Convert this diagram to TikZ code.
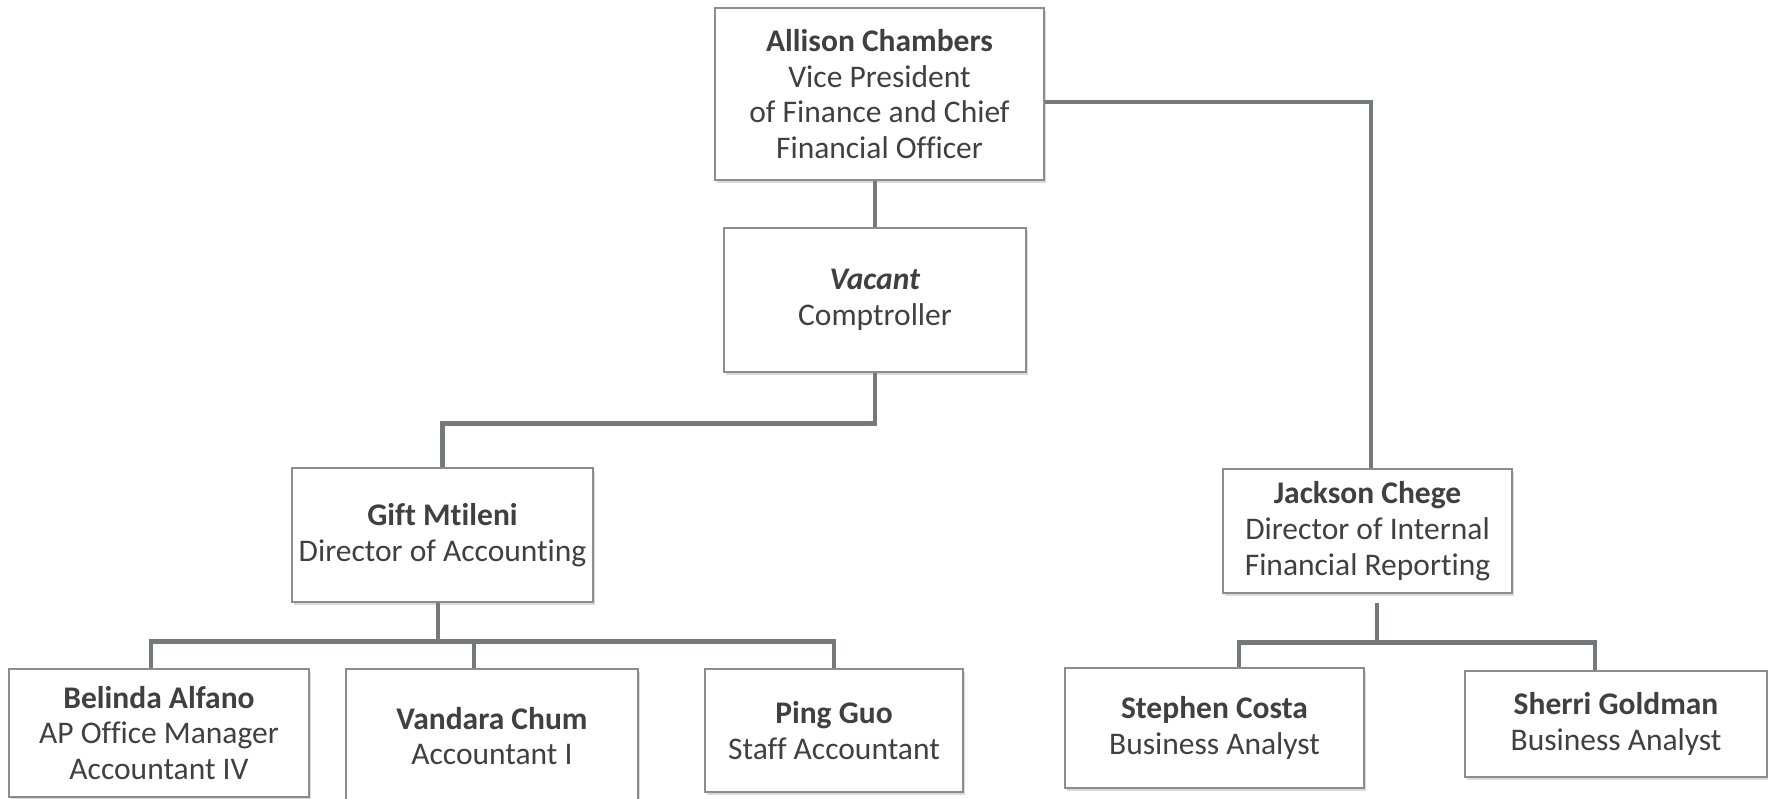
\documentclass[tikz,border=0pt]{standalone}
\usepackage{fontspec}
\setmainfont{Carlito}[Ligatures=NoCommon]
\usetikzlibrary{shadows,calc}

\definecolor{linegray}{HTML}{77787B}
\definecolor{framegray}{HTML}{8C8C8C}
\definecolor{textgray}{HTML}{404040}

\tikzset{
    person/.style={draw=framegray, line width=1.2pt, fill=white, text=textgray, align=center, inner sep=0pt,
        font=\fontsize{31.5}{35.7}\selectfont,
        drop shadow={shadow xshift=2pt, shadow yshift=-3pt, opacity=0.35, fill=black!40}},
    link/.style={draw=linegray, line width=4.5pt},
}

\begin{document}
\begin{tikzpicture}[x=1pt, y=-1pt]
    \useasboundingbox (0,0) rectangle (1768,799);

    \node[person, minimum width=329pt, minimum height=172pt] (vp) at (879.5,94) {\textbf{Allison Chambers}\\Vice President\\of Finance and Chief\\Financial Officer};
    \node[person, minimum width=302pt, minimum height=144pt] (comp) at (875,300) {\textbf{\textit{Vacant}}\\Comptroller};
    \node[person, minimum width=301pt, minimum height=134pt] (gift) at (442.5,535) {\textbf{Gift Mtileni}\\Director of Accounting};
    \node[person, minimum width=289pt, minimum height=124pt] (jackson) at (1367.5,531) {\textbf{Jackson Chege}\\Director of Internal\\Financial Reporting};

    \node[person, minimum width=300pt, minimum height=128pt] (belinda) at (159,733) {\textbf{Belinda Alfano}\\AP Office Manager\\Accountant IV};
    \node[person, minimum width=292pt, minimum height=134pt] (vandara) at (492,736) {\textbf{Vandara Chum}\\Accountant I};
    \node[person, minimum width=258pt, minimum height=123pt] (ping) at (834,730.5) {\textbf{Ping Guo}\\Staff Accountant};
    \node[person, minimum width=299pt, minimum height=120pt] (stephen) at (1214.5,728) {\textbf{Stephen Costa}\\Business Analyst};
    \node[person, minimum width=302pt, minimum height=106pt] (sherri) at (1616,724) {\textbf{Sherri Goldman}\\Business Analyst};

    % top level
    \draw[link] (comp.north) -- (comp.north |- vp.south);
    \draw[link] ([yshift=-8pt]vp.east) -| ([xshift=3.5pt]jackson.north);
    \draw[link] (comp.south) -- ++(0,-51pt) -| (gift.north);

    % accounting
    \draw[link] ([xshift=-4.5pt]gift.south) -- ++(0,-39pt) coordinate (accbus);
    \draw[link] ([xshift=-8pt]belinda.north) |- (accbus) -| (ping.north);
    \draw[link] ([xshift=-18pt]vandara.north) -- ++(0,28pt);

    % reporting
    \draw[link] ([xshift=9.5pt,yshift=-9pt]jackson.south) -- ++(0,-40pt) coordinate (repbus);
    \draw[link] ([xshift=24.5pt]stephen.north) |- (repbus) -| ([xshift=-21pt]sherri.north);
\end{tikzpicture}
\end{document}
